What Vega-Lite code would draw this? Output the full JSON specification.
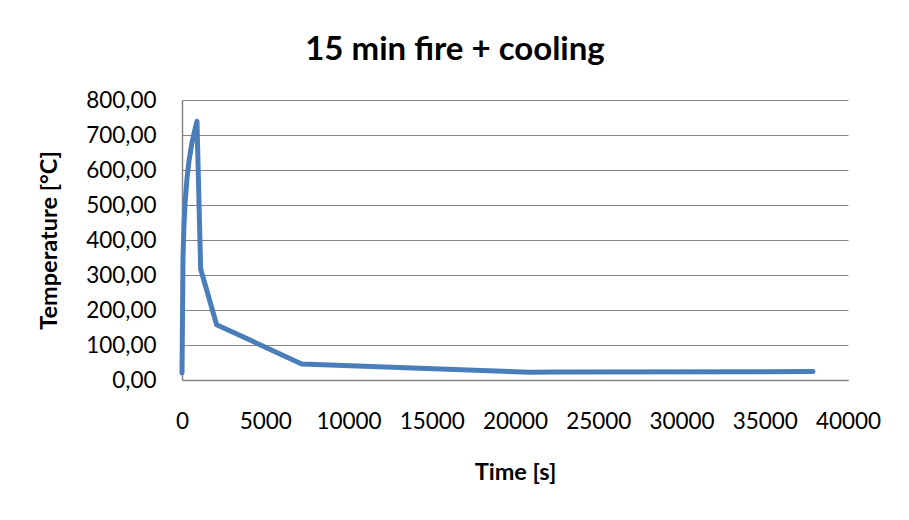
{
  "$schema": "https://vega.github.io/schema/vega-lite/v6.json",
  "autosize": "none",
  "width": 666,
  "height": 280,
  "padding": {"left": 182, "top": 100, "right": 61, "bottom": 140},
  "background": "white",
  "title": {
    "text": "15 min fire + cooling",
    "font": "Lato",
    "fontSize": 33,
    "fontWeight": "bold",
    "color": "#000000",
    "anchor": "middle",
    "offset": 22,
    "dx": -60
  },
  "data": {
    "values": [
      {"time": 0, "temp": 20},
      {"time": 60, "temp": 349},
      {"time": 120, "temp": 445},
      {"time": 180, "temp": 502},
      {"time": 300, "temp": 576},
      {"time": 420, "temp": 626},
      {"time": 600, "temp": 678},
      {"time": 780, "temp": 716},
      {"time": 900, "temp": 739},
      {"time": 1120, "temp": 317},
      {"time": 2080, "temp": 158},
      {"time": 7190, "temp": 46},
      {"time": 20900, "temp": 22},
      {"time": 22600, "temp": 23},
      {"time": 37900, "temp": 24}
    ]
  },
  "mark": {"type": "line", "color": "#4a7ebb", "strokeWidth": 5, "strokeCap": "round", "strokeJoin": "round"},
  "encoding": {
    "x": {
      "field": "time",
      "type": "quantitative",
      "scale": {"domain": [0, 40000], "nice": false},
      "axis": {
        "title": "Time [s]",
        "values": [0, 5000, 10000, 15000, 20000, 25000, 30000, 35000, 40000],
        "format": "d",
        "grid": false,
        "ticks": false,
        "labelOverlap": false,
        "labelFlush": false,
        "labelPadding": 30,
        "titlePadding": 28
      }
    },
    "y": {
      "field": "temp",
      "type": "quantitative",
      "scale": {"domain": [0, 800], "nice": false},
      "axis": {
        "title": "Temperature [°C]",
        "values": [0, 100, 200, 300, 400, 500, 600, 700, 800],
        "format": ".2f",
        "grid": true,
        "ticks": false,
        "labelOverlap": false,
        "labelFlush": false,
        "labelPadding": 26,
        "titlePadding": 24
      }
    }
  },
  "config": {
    "locale": {
      "number": {"decimal": ",", "thousands": ".", "grouping": [3], "currency": ["", " €"]}
    },
    "view": {"stroke": null},
    "axis": {
      "labelFont": "Lato",
      "labelFontSize": 22.5,
      "labelColor": "#000000",
      "titleFont": "Lato",
      "titleFontSize": 23.5,
      "titleFontWeight": "bold",
      "titleColor": "#000000",
      "domainColor": "#868686",
      "domainWidth": 1.5,
      "gridColor": "#868686",
      "gridWidth": 1.2
    }
  }
}
